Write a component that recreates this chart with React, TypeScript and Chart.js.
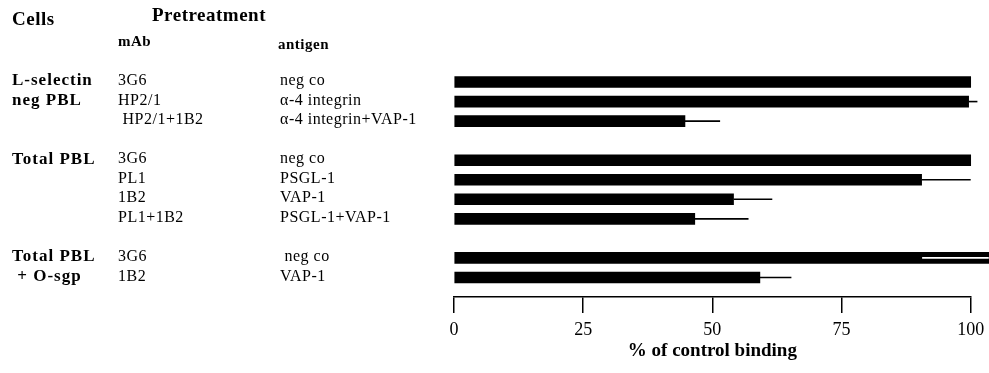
import React, { useEffect, useRef } from 'react';
import { Chart, registerables } from 'chart.js';

Chart.register(...registerables);

// ---- data ----
const cellGroups: string[][] = [['L-selectin', 'neg PBL'], ['Total PBL'], ['Total PBL', ' + O-sgp']];
const mAbGroups: string[][] = [
  ['3G6', 'HP2/1', ' HP2/1+1B2'],
  ['3G6', 'PL1', '1B2', 'PL1+1B2'],
  ['3G6', '1B2'],
];
const antigenGroups: string[][] = [
  ['neg co', 'α-4 integrin', 'α-4 integrin+VAP-1'],
  ['neg co', 'PSGL-1', 'VAP-1', 'PSGL-1+VAP-1'],
  [' neg co', 'VAP-1'],
];
const bindingValues = [100, 99.6, 44.7, 100, 90.5, 54.1, 46.6, 103.5, 59.2];
const errorPlus = [0, 1.7, 6.8, 0, 9.5, 7.5, 10.4, 0, 6.1];
const errorMinus = [0, 0, 0, 0, 0, 0, 0, 12.9, 0];
const xTicks = [0, 25, 50, 75, 100];
const headerCells = 'Cells';
const headerPretreatment = 'Pretreatment';
const headerMAb = 'mAb';
const headerAntigen = 'antigen';
const xTitle = '% of control binding';

// row slots: one blank slot between groups
const rowIndex: number[] = [];
const groupStart: number[] = [];
{
  let pos = 0;
  mAbGroups.forEach((g, gi) => {
    if (gi > 0) pos += 1;
    groupStart.push(pos);
    g.forEach(() => {
      rowIndex.push(pos);
      pos += 1;
    });
  });
}
const mAbLabels = mAbGroups.flat();
const antigenLabels = antigenGroups.flat();

const SERIF = '"Liberation Serif", "Times New Roman", serif';

const tablePlugin = {
  id: 'tableText',
  afterDraw(chart: any) {
    const ctx = chart.ctx as any;
    const ys = chart.scales.y;
    ctx.save();
    ctx.fillStyle = '#000';
    ctx.textAlign = 'left';
    ctx.textBaseline = 'middle';
    ctx.letterSpacing = '0.5px';
    ctx.font = `bold 19px ${SERIF}`;
    ctx.fillText(headerCells, 12, 20);
    ctx.fillText(headerPretreatment, 152, 16);
    ctx.font = `bold 15px ${SERIF}`;
    ctx.fillText(headerMAb, 118, 42);
    ctx.fillText(headerAntigen, 278, 45);
    ctx.letterSpacing = '1px';
    ctx.font = `bold 17px ${SERIF}`;
    cellGroups.forEach((lines, gi) => {
      lines.forEach((t, k) => {
        ctx.fillText(t, 12, ys.getPixelForValue(groupStart[gi] + k) - 1);
      });
    });
    ctx.letterSpacing = '0.5px';
    ctx.font = `16px ${SERIF}`;
    mAbLabels.forEach((t, i) => {
      ctx.fillText(t, 118, ys.getPixelForValue(rowIndex[i]) - 1);
    });
    antigenLabels.forEach((t, i) => {
      ctx.fillText(t, 280, ys.getPixelForValue(rowIndex[i]) - 1);
    });
    ctx.letterSpacing = '0px';
    ctx.restore();
  },
};

const errorBarPlugin = {
  id: 'errorBars',
  afterDatasetsDraw(chart: any) {
    const ctx = chart.ctx as CanvasRenderingContext2D;
    const xs = chart.scales.x;
    const meta = chart.getDatasetMeta(0);
    ctx.save();
    ctx.lineWidth = 1.6;
    meta.data.forEach((bar: any, i: number) => {
      const v = bindingValues[i];
      if (errorPlus[i] > 0) {
        ctx.strokeStyle = '#000';
        ctx.beginPath();
        ctx.moveTo(bar.x, bar.y);
        ctx.lineTo(xs.getPixelForValue(v + errorPlus[i]), bar.y);
        ctx.stroke();
      }
      if (errorMinus[i] > 0) {
        ctx.strokeStyle = '#fff';
        ctx.beginPath();
        ctx.moveTo(xs.getPixelForValue(v - errorMinus[i]), bar.y);
        ctx.lineTo(bar.x, bar.y);
        ctx.stroke();
      }
    });
    ctx.restore();
  },
};

export default function App() {
  const ref = useRef<HTMLCanvasElement | null>(null);
  useEffect(() => {
    document.body.style.margin = '0';
    document.body.style.overflow = 'hidden';
    const canvas = ref.current;
    if (!canvas) return;
    const chart = new Chart(canvas, {
      type: 'bar',
      data: {
        datasets: [
          {
            data: bindingValues.map((v, i) => ({ x: v, y: rowIndex[i] })),
            backgroundColor: '#000',
            borderWidth: 0,
            barThickness: 11,
            clip: false as any,
          },
        ],
      },
      options: {
        indexAxis: 'y',
        animation: false,
        responsive: false,
        layout: { padding: { left: 454, right: 18.3, top: 62.5, bottom: 11 } },
        plugins: { legend: { display: false }, tooltip: { enabled: false } },
        scales: {
          y: {
            type: 'linear',
            display: false,
            reverse: true,
            offset: false,
            min: -1,
            max: 11,
          },
          x: {
            type: 'linear',
            min: 0,
            max: 100,
            afterBuildTicks: (scale: any) => {
              scale.ticks = xTicks.map((v) => ({ value: v }));
            },
            afterFit: (scale: any) => {
              scale.height = 65;
            },
            border: { display: true, color: '#000', width: 1.5 },
            grid: {
              drawOnChartArea: false,
              drawTicks: true,
              tickLength: 16,
              color: '#000',
              lineWidth: 1.5,
            },
            ticks: {
              color: '#000',
              padding: 4,
              maxRotation: 0,
              font: { family: SERIF, size: 18, lineHeight: 1.5 },
            },
            title: {
              display: true,
              text: xTitle,
              color: '#000',
              padding: { top: 0, bottom: 0 },
              font: { family: SERIF, size: 19, weight: 'bold' },
            },
          },
        },
      },
      plugins: [errorBarPlugin, tablePlugin],
    });
    return () => chart.destroy();
  }, []);
  return (
    <div style={{ width: 989, height: 373 }}>
      <canvas ref={ref} width={989} height={373} />
    </div>
  );
}
